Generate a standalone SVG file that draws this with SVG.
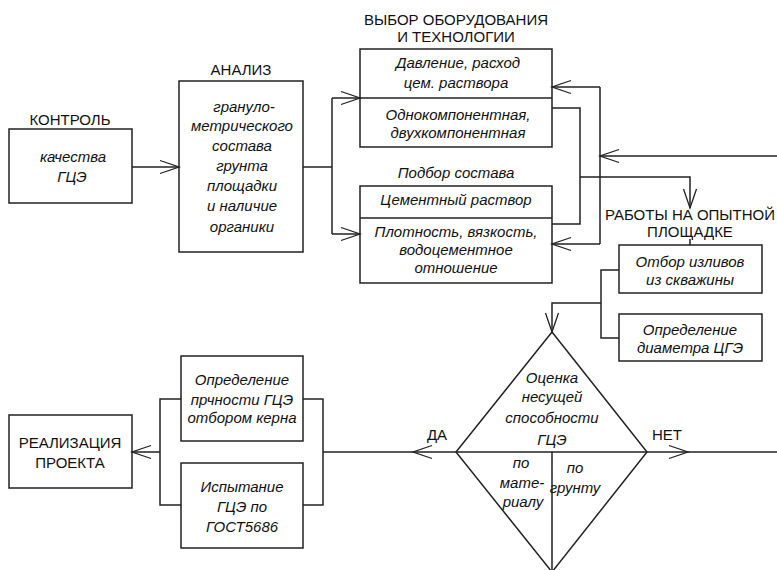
<svg xmlns="http://www.w3.org/2000/svg" width="777" height="570" viewBox="0 0 777 570">
<defs>
<style>
.b{fill:none;stroke:#222;stroke-width:1.5}
.c{fill:none;stroke:#222;stroke-width:1.5}
.a{marker-end:url(#arr)}
text{font-family:"Liberation Sans",Arial,sans-serif;fill:#111;text-anchor:middle}
.h{font-size:15px}
.t{font-size:15px;font-style:italic}
</style>
<marker id="arr" markerUnits="userSpaceOnUse" markerWidth="22" markerHeight="16" refX="19" refY="7" orient="auto" viewBox="0 0 22 16" overflow="visible">
<path d="M0,0.5 L19,7 L0,13.5" fill="none" stroke="#222" stroke-width="1.3"/>
</marker>
</defs>
<rect width="777" height="570" fill="#fff"/>

<g id="control">
<rect class="b" x="9" y="129" width="123" height="74"/>
<text class="h" x="70" y="125">КОНТРОЛЬ</text>
<text class="t" x="73" y="162">качества</text>
<text class="t" x="72" y="182">ГЦЭ</text>
</g>

<g id="analysis">
<rect class="b" x="179" y="81" width="124" height="171"/>
<text class="h" x="241" y="75">АНАЛИЗ</text>
<text class="t" x="244" y="112">грануло-</text>
<text class="t" x="242" y="131">метрического</text>
<text class="t" x="242" y="151">состава</text>
<text class="t" x="242" y="171">грунта</text>
<text class="t" x="242" y="191">площадки</text>
<text class="t" x="242" y="211">и наличие</text>
<text class="t" x="242" y="232">органики</text>
</g>

<g id="equipment">
<text class="h" x="456" y="25">ВЫБОР ОБОРУДОВАНИЯ</text>
<text class="h" x="456" y="42">И ТЕХНОЛОГИИ</text>
<rect class="b" x="360" y="49" width="192" height="98"/>
<line class="b" x1="360" y1="98" x2="552" y2="98"/>
<text class="t" x="458" y="68">Давление, расход</text>
<text class="t" x="456" y="88">цем. раствора</text>
<text class="t" x="458" y="120">Однокомпонентная,</text>
<text class="t" x="458" y="138">двухкомпонентная</text>
</g>

<g id="mix">
<text class="t" x="456" y="178">Подбор состава</text>
<rect class="b" x="360" y="186" width="192" height="97"/>
<line class="b" x1="360" y1="218" x2="552" y2="218"/>
<text class="t" x="456" y="205">Цементный раствор</text>
<text class="t" x="456" y="237">Плотность, вязкость,</text>
<text class="t" x="456" y="255">водоцементное</text>
<text class="t" x="456" y="273">отношение</text>
</g>

<g id="site">
<text class="h" x="690" y="220">РАБОТЫ НА ОПЫТНОЙ</text>
<text class="h" x="690" y="237">ПЛОЩАДКЕ</text>
<line class="b" x1="690" y1="239" x2="690" y2="245"/>
</g>

<g id="outflow">
<rect class="b" x="619" y="245" width="143" height="48"/>
<text class="t" x="690" y="267">Отбор изливов</text>
<text class="t" x="690" y="285">из скважины</text>
</g>

<g id="diameter">
<rect class="b" x="619" y="314" width="143" height="47"/>
<text class="t" x="690" y="335">Определение</text>
<text class="t" x="690" y="353">диаметра ЦГЭ</text>
</g>

<g id="decision">
<polygon class="b" points="552,332 647,452 552,572 456,452"/>
<line class="b" x1="456" y1="452" x2="647" y2="452"/>
<line class="b" x1="552" y1="452" x2="552" y2="572"/>
<text class="t" x="552" y="383">Оценка</text>
<text class="t" x="552" y="402">несущей</text>
<text class="t" x="552" y="423">способности</text>
<text class="t" x="552" y="445">ГЦЭ</text>
<text class="t" x="521" y="468">по</text>
<text class="t" x="522" y="488">мате-</text>
<text class="t" x="523" y="507">риалу</text>
<text class="t" x="575" y="473">по</text>
<text class="t" x="575" y="493">грунту</text>
</g>

<g id="strength">
<rect class="b" x="181" y="356" width="122" height="85"/>
<text class="t" x="242" y="385">Определение</text>
<text class="t" x="242" y="405">прчности ГЦЭ</text>
<text class="t" x="242" y="423">отбором керна</text>
</g>

<g id="test">
<rect class="b" x="181" y="463" width="122" height="85"/>
<text class="t" x="242" y="492">Испытание</text>
<text class="t" x="242" y="512">ГЦЭ по</text>
<text class="t" x="242" y="532">ГОСТ5686</text>
</g>

<g id="project">
<rect class="b" x="9" y="415" width="123" height="73"/>
<text class="h" x="70" y="448">РЕАЛИЗАЦИЯ</text>
<text class="h" x="70" y="468">ПРОЕКТА</text>
</g>

<g id="connectors">
<path class="c a" d="M132,167 H179"/>
<path class="c" d="M303,167 H332"/>
<path class="c" d="M332,98 V234"/>
<path class="c a" d="M332,98 H360"/>
<path class="c a" d="M332,234 H360"/>
<path class="c a" d="M600,87 H552"/>
<path class="c" d="M600,87 V244"/>
<path class="c a" d="M777,156 H600"/>
<path class="c a" d="M600,244 H552"/>
<path class="c" d="M552,108 H580 V224 H552"/>
<path class="c a" d="M580,177 H690 V208"/>
<path class="c" d="M619,270 H601 V338 H619"/>
<path class="c a" d="M601,303 H552 V332"/>
<path class="c a" d="M456,452 H413"/>
<path class="c" d="M413,452 H323"/>
<path class="c a" d="M647,452 H688"/>
<path class="c" d="M688,452 H777"/>
<path class="c" d="M303,399 H323 V505 H303"/>
<path class="c" d="M181,399 H160 V505 H181"/>
<path class="c a" d="M160,452 H132"/>
<text class="h" x="437" y="440">ДА</text>
<text class="h" x="667" y="440">НЕТ</text>
</g>
</svg>
